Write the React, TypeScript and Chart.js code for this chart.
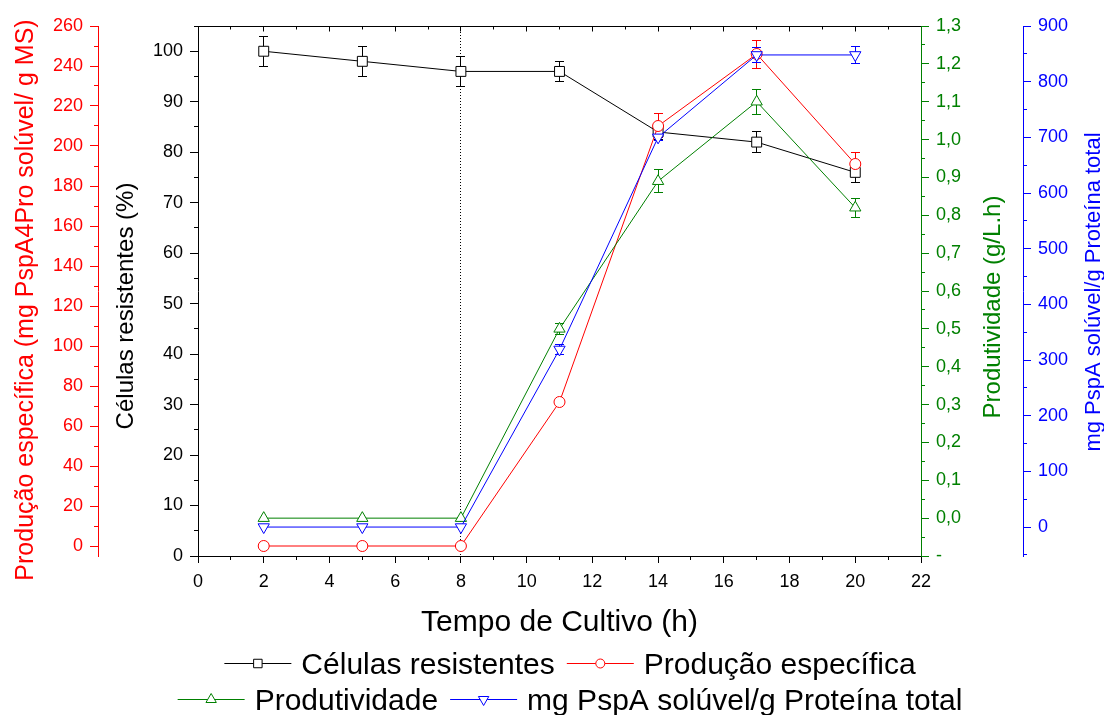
import React, { useEffect, useRef } from 'react';
import { Chart, registerables } from 'chart.js';

Chart.register(...registerables);

const FONT = '"Liberation Sans", Arial, Helvetica, sans-serif';

// ---- data ----
const tempo = [2, 5, 8, 11, 14, 17, 20];
const celulas = [100, 98, 96, 96, 84, 82, 76];
const celulasErr = [3, 3, 3, 2, 1.5, 2, 2];
const producao = [0, 0, 0, 72, 210, 246, 191];
const producaoErr = [0, 0, 0, 1, 6, 7, 5.5];
const produtividade = [0, 0, 0, 0.5, 0.89, 1.1, 0.82];
const produtividadeErr = [0, 0, 0, 0.015, 0.031, 0.033, 0.025];
const pspa = [0, 0, 0, 319, 700, 848, 848];
const pspaErr = [0, 0, 0, 9, 5, 14, 15];
const inducao = 8;

// ---- tick labels ----
const xTicks = [0, 2, 4, 6, 8, 10, 12, 14, 16, 18, 20, 22];
const celulasTicks = [0, 10, 20, 30, 40, 50, 60, 70, 80, 90, 100];
const producaoTicks = [0, 20, 40, 60, 80, 100, 120, 140, 160, 180, 200, 220, 240, 260];
const produtividadeTicks = [-0.1, 0.0, 0.1, 0.2, 0.3, 0.4, 0.5, 0.6, 0.7, 0.8, 0.9, 1.0, 1.1, 1.2, 1.3];
const pspaTicks = [0, 100, 200, 300, 400, 500, 600, 700, 800, 900];

// ---- texts ----
const nomeCel = 'Células resistentes';
const nomeProd = 'Produção específica';
const nomeProdut = 'Produtividade';
const nomePspa = 'mg PspA solúvel/g Proteína total';
const tituloX = 'Tempo de Cultivo (h)';
const tituloCel = 'Células resistentes (%)';
const tituloProd = 'Produção específica (mg PspA4Pro solúvel/ g MS)';
const tituloProdut = 'Produtividade (g/L.h)';
const tituloPspa = 'mg PspA solúvel/g Proteína total';

const BLACK = '#000000';
const RED = '#ff0000';
const GREEN = '#008000';
const BLUE = '#0000ff';

function drawMarker(ctx: CanvasRenderingContext2D, style: string, x: number, y: number, r: number, color: string) {
  ctx.save();
  ctx.beginPath();
  if (style === 'rect') {
    const s = r * Math.SQRT1_2;
    ctx.rect(x - s, y - s, 2 * s, 2 * s);
  } else if (style === 'circle') {
    ctx.arc(x, y, r, 0, Math.PI * 2);
  } else if (style === 'up') {
    ctx.moveTo(x, y - r);
    ctx.lineTo(x + 0.866 * r, y + 0.5 * r);
    ctx.lineTo(x - 0.866 * r, y + 0.5 * r);
    ctx.closePath();
  } else {
    ctx.moveTo(x, y + r);
    ctx.lineTo(x + 0.866 * r, y - 0.5 * r);
    ctx.lineTo(x - 0.866 * r, y - 0.5 * r);
    ctx.closePath();
  }
  ctx.fillStyle = '#ffffff';
  ctx.fill();
  ctx.strokeStyle = color;
  ctx.lineWidth = 1;
  ctx.stroke();
  ctx.restore();
}

function minorValues(majors: number[], min: number, max: number) {
  const step = majors[1] - majors[0];
  const out: number[] = [];
  const first = majors[0] - step / 2;
  if (first >= min - 1e-9) out.push(first);
  for (let i = 0; i < majors.length - 1; i++) out.push((majors[i] + majors[i + 1]) / 2);
  const last = majors[majors.length - 1] + step / 2;
  if (last <= max + 1e-9) out.push(last);
  return out;
}

const px = (v: number) => Math.round(v - 0.5) + 0.5;

const extrasPlugin = {
  id: 'extras',
  beforeDatasetsDraw(chart: any) {
    const ctx: CanvasRenderingContext2D = chart.ctx;
    const area = chart.chartArea;
    const xs = chart.scales.x;
    // dotted induction line
    ctx.save();
    ctx.strokeStyle = BLACK;
    ctx.lineWidth = 1;
    ctx.setLineDash([1, 2]);
    const xi = px(xs.getPixelForValue(inducao));
    ctx.beginPath();
    ctx.moveTo(xi, area.top);
    ctx.lineTo(xi, area.bottom);
    ctx.stroke();
    ctx.restore();
    // error bars
    chart.data.datasets.forEach((ds: any) => {
      const ys = chart.scales[ds.yAxisID];
      ctx.save();
      ctx.strokeStyle = ds.borderColor;
      ctx.lineWidth = 1;
      ds.data.forEach((p: any, i: number) => {
        const e = ds.errors[i];
        if (!e) return;
        const x = px(xs.getPixelForValue(p.x));
        const yt = px(ys.getPixelForValue(p.y + e));
        const yb = px(ys.getPixelForValue(p.y - e));
        ctx.beginPath();
        ctx.moveTo(x, yt);
        ctx.lineTo(x, yb);
        ctx.moveTo(x - 4.5, yt);
        ctx.lineTo(x + 4.5, yt);
        ctx.moveTo(x - 4.5, yb);
        ctx.lineTo(x + 4.5, yb);
        ctx.stroke();
      });
      ctx.restore();
    });
  },
  afterDraw(chart: any) {
    const ctx: CanvasRenderingContext2D = chart.ctx;
    const area = chart.chartArea;
    const xs = chart.scales.x;
    ctx.save();
    ctx.lineWidth = 1;
    // top frame
    ctx.strokeStyle = BLACK;
    ctx.beginPath();
    const yTop = px(area.top);
    ctx.moveTo(area.left, yTop);
    ctx.lineTo(area.right, yTop);
    for (let v = 1; v < 22; v++) {
      const x = px(xs.getPixelForValue(v));
      ctx.moveTo(x, yTop);
      ctx.lineTo(x, yTop + (v % 2 === 0 ? 5 : 3));
    }
    ctx.stroke();
    // minor ticks
    const specs = [
      { id: 'x', majors: xTicks, color: BLACK },
      { id: 'yCel', majors: celulasTicks, color: BLACK },
      { id: 'yProd', majors: producaoTicks, color: RED },
      { id: 'yProdut', majors: produtividadeTicks, color: GREEN },
      { id: 'yPspa', majors: pspaTicks, color: BLUE },
    ];
    specs.forEach((s) => {
      const sc = chart.scales[s.id];
      ctx.strokeStyle = s.color;
      ctx.beginPath();
      minorValues(s.majors, sc.min, sc.max).forEach((v) => {
        const p = px(sc.getPixelForValue(v));
        if (s.id === 'x') {
          ctx.moveTo(p, sc.top);
          ctx.lineTo(p, sc.top + 4);
        } else if (sc.position === 'left') {
          ctx.moveTo(sc.right, p);
          ctx.lineTo(sc.right - 4, p);
        } else {
          ctx.moveTo(sc.left, p);
          ctx.lineTo(sc.left + 4, p);
        }
      });
      ctx.stroke();
    });
    // axis titles
    const vTitle = (text: string, x: number, y: number, size: number, color: string) => {
      ctx.save();
      ctx.translate(x, y);
      ctx.rotate(-Math.PI / 2);
      ctx.font = `${size}px ${FONT}`;
      ctx.fillStyle = color;
      ctx.textAlign = 'center';
      ctx.textBaseline = 'alphabetic';
      ctx.fillText(text, 0, 0);
      ctx.restore();
    };
    vTitle(tituloProd, 33, 300, 25, RED);
    vTitle(tituloCel, 133, 306, 24, BLACK);
    vTitle(tituloProdut, 1000, 307, 24, GREEN);
    vTitle(tituloPspa, 1100, 292, 22, BLUE);
    ctx.font = `30px ${FONT}`;
    ctx.fillStyle = BLACK;
    ctx.textAlign = 'center';
    ctx.textBaseline = 'alphabetic';
    ctx.fillText(tituloX, (area.left + area.right) / 2, 631);
    // legend
    const ds = chart.data.datasets;
    const rows = [
      { items: [ds[0], ds[1]], base: 674 },
      { items: [ds[2], ds[3]], base: 710 },
    ];
    const lineLen = 67;
    const gap = 10;
    const itemGap = 12;
    const cx = 570;
    rows.forEach((row) => {
      ctx.font = `30px ${FONT}`;
      const widths = row.items.map((d: any) => lineLen + gap + ctx.measureText(d.label).width);
      const total = widths.reduce((a: number, b: number) => a + b, 0) + itemGap * (row.items.length - 1);
      let x = cx - total / 2;
      const ly = px(row.base - 10.5);
      row.items.forEach((d: any, i: number) => {
        ctx.strokeStyle = d.borderColor;
        ctx.beginPath();
        ctx.moveTo(x, ly);
        ctx.lineTo(x + lineLen, ly);
        ctx.stroke();
        drawMarker(ctx, d.legendMarker, x + lineLen / 2, ly, d.legendMarker === 'circle' ? 4.5 : 6, d.borderColor);
        ctx.fillStyle = BLACK;
        ctx.textAlign = 'left';
        ctx.fillText(d.label, x + lineLen + gap, row.base);
        x += widths[i] + itemGap;
      });
    });
    ctx.restore();
  },
};

function yAxis(position: string, weight: number, min: number, max: number, ticks: number[], color: string, width: number, fmt?: (v: number) => string) {
  return {
    type: 'linear',
    position,
    weight,
    min,
    max,
    afterBuildTicks: (scale: any) => {
      scale.ticks = ticks.map((v) => ({ value: v }));
    },
    afterFit: (scale: any) => {
      scale.width = width;
    },
    border: { display: true, color, width: 1 },
    grid: { drawOnChartArea: false, drawTicks: true, tickLength: 8, tickColor: color, tickWidth: 1, color },
    ticks: {
      color,
      font: { size: 18, family: FONT },
      padding: 7,
      autoSkip: false,
      callback: (v: any) => (fmt ? fmt(Number(v)) : String(v)),
    },
  };
}

export default function App() {
  const ref = useRef<HTMLCanvasElement | null>(null);
  useEffect(() => {
    if (!ref.current) return;
    Chart.defaults.font.family = FONT;
    const mk = (vals: number[]) => tempo.map((x, i) => ({ x, y: vals[i] }));
    const chart = new Chart(ref.current, {
      type: 'line',
      data: {
        datasets: [
          {
            label: nomeCel, data: mk(celulas), errors: celulasErr, yAxisID: 'yCel',
            borderColor: BLACK, backgroundColor: '#ffffff', borderWidth: 1,
            pointStyle: 'rect', pointRadius: 7, pointBorderWidth: 1, pointBackgroundColor: '#ffffff',
            legendMarker: 'rect', order: 4, tension: 0,
          },
          {
            label: nomeProd, data: mk(producao), errors: producaoErr, yAxisID: 'yProd',
            borderColor: RED, backgroundColor: '#ffffff', borderWidth: 1,
            pointStyle: 'circle', pointRadius: 5.5, pointBorderWidth: 1, pointBackgroundColor: '#ffffff',
            legendMarker: 'circle', order: 3, tension: 0,
          },
          {
            label: nomeProdut, data: mk(produtividade), errors: produtividadeErr, yAxisID: 'yProdut',
            borderColor: GREEN, backgroundColor: '#ffffff', borderWidth: 1,
            pointStyle: 'triangle', pointRadius: 6.5, pointBorderWidth: 1, pointBackgroundColor: '#ffffff',
            legendMarker: 'up', order: 2, tension: 0,
          },
          {
            label: nomePspa, data: mk(pspa), errors: pspaErr, yAxisID: 'yPspa',
            borderColor: BLUE, backgroundColor: '#ffffff', borderWidth: 1,
            pointStyle: 'triangle', pointRotation: 180, pointRadius: 6.5, pointBorderWidth: 1, pointBackgroundColor: '#ffffff',
            legendMarker: 'down', order: 1, tension: 0,
          },
        ] as any,
      },
      options: {
        responsive: false,
        animation: false,
        devicePixelRatio: 1,
        layout: { padding: { top: 26, left: 0, right: 0, bottom: 0 } },
        plugins: { legend: { display: false }, tooltip: { enabled: false }, title: { display: false } },
        scales: {
          x: {
            type: 'linear',
            position: 'bottom',
            min: 0,
            max: 22,
            afterBuildTicks: (scale: any) => {
              scale.ticks = xTicks.map((v) => ({ value: v }));
            },
            afterFit: (scale: any) => {
              scale.height = 159;
            },
            border: { display: true, color: BLACK, width: 1 },
            grid: { drawOnChartArea: false, drawTicks: true, tickLength: 7, tickColor: BLACK, color: BLACK },
            ticks: { color: BLACK, font: { size: 18, family: FONT }, padding: 8, autoSkip: false, maxRotation: 0, callback: (v: any) => String(v) },
          },
          yCel: yAxis('left', 0, 0, 105, celulasTicks, BLACK, 100) as any,
          yProd: yAxis('left', 1, -5, 260, producaoTicks, RED, 98) as any,
          yProdut: yAxis('right', 0, -0.1, 1.3, produtividadeTicks, GREEN, 102, (v) => (v < -0.05 ? '-' : v.toFixed(1).replace('.', ','))) as any,
          yPspa: yAxis('right', 1, -52, 900, pspaTicks, BLUE, 81) as any,
        } as any,
      },
      plugins: [extrasPlugin as any],
    });
    return () => chart.destroy();
  }, []);
  return (
    <div style={{ position: 'fixed', left: 0, top: 0, width: 1104, height: 715, background: '#ffffff' }}>
      <canvas ref={ref} width={1104} height={715} style={{ display: 'block', width: 1104, height: 715 }} />
    </div>
  );
}
